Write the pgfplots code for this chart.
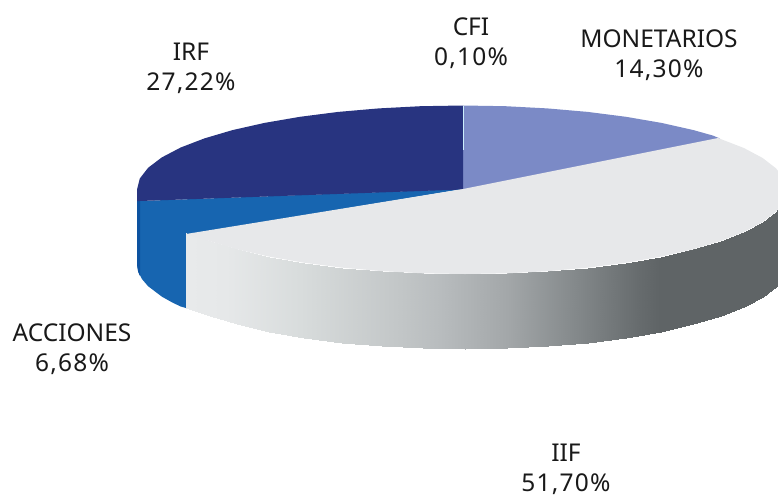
\documentclass[border=0pt]{standalone}
\usepackage{fontspec}
\setmainfont{Noto Sans}
\usepackage{pgfplots}
\pgfplotsset{compat=1.18}
\definecolor{navy}{RGB}{40,52,128}
\definecolor{peri}{RGB}{123,138,198}
\definecolor{azul}{RGB}{23,101,176}
\definecolor{azuld}{RGB}{12,82,160}
\definecolor{claro}{RGB}{231,232,234}
\newfontfamily\pct[LetterSpace=5]{Noto Sans}
\tikzset{lbl/.style={font=\fontsize{24.5}{30}\selectfont,text=black!90,align=center,inner sep=0pt}}
\begin{document}
\begin{tikzpicture}
\begin{axis}[
  width=778pt,height=499pt,scale only axis,
  xmin=0,xmax=778,ymin=0,ymax=499,y dir=reverse,
  hide axis,clip=true,
  colormap={lado}{rgb255(0pt)=(232,234,235);rgb255(40pt)=(230,232,233);rgb255(114pt)=(216,220,220);rgb255(214pt)=(194,198,199);rgb255(254pt)=(184,188,190);rgb255(321pt)=(163,167,169);rgb255(387pt)=(133,138,140);rgb255(454pt)=(102,107,109);rgb255(474pt)=(95,100,102);rgb255(601pt)=(95,100,102)},
  point meta min=186,point meta max=787,
]
% MONETARIOS
\addplot[fill=peri,draw=none] coordinates {(463,189.5)(463,105.5)(505.5,106.2)(547.4,108.4)(587.8,111.9)(626,116.8)(661.5,122.9)(693.5,130.1)(712.7,135.5)(720,138.5)} --cycle;
% ACCIONES
\addplot[fill=azul,draw=none] coordinates {(140,201)(463,189)(186,235)(186,308)(180.7,306.5)(172.5,302.6)(161.8,296.6)(148.1,286.2)(142,279.1)(138.2,271.8)(137,264.5)(137,201)} --cycle;
\addplot[fill=azuld,draw=none] coordinates {(137,201)(140,201)(140,276)(138.2,271.8)(137,264.5)} --cycle;
% IRF
\addplot[fill=navy,draw=none] coordinates {(463,189.5)(463,105.5)(420.5,106.2)(378.6,108.4)(338.2,111.9)(300,116.8)(264.5,122.9)(232.5,130.1)(204.4,138.4)(180.7,147.5)(161.8,157.4)(148.1,167.8)(139.8,178.5)(137,189.5)(137,201)(140,201)} --cycle;
\addplot[draw=cyan!20!white,line width=0.6pt] coordinates {(463,105.5)(463,150)};
% IIF lateral
\addplot[surf,shader=interp,mesh/rows=2,point meta=x] coordinates {
(186,233)(209.5,241.1)(237.3,249.4)(269,256.6)(304,262.7)(341.8,267.6)(381.7,271.1)(423,273.3)(465,274)(507,273.3)(548.3,271.1)(588.2,267.6)(626,262.7)(661,256.6)(692.7,249.4)(720.5,241.1)(743.9,232)(762.5,222.1)(776,211.7)(784.2,201)(787,190)

(186,308)(209.5,316.1)(237.3,324.4)(269,331.6)(304,337.7)(341.8,342.6)(381.7,346.1)(423,348.3)(465,349)(507,348.3)(548.3,346.1)(588.2,342.6)(626,337.7)(661,331.6)(692.7,324.4)(720.5,316.1)(743.9,307)(762.5,297.1)(776,286.7)(784.2,276)(787,265)
};
% IIF superior
\addplot[fill=claro,draw=none] coordinates {(186,234)(463,189)(718,138)(743.9,148)(762.5,157.9)(776,168.3)(784.2,179)(787,190)(784.2,201)(776,211.7)(762.5,222.1)(743.9,232)(720.5,241.1)(692.7,249.4)(661,256.6)(626,262.7)(588.2,267.6)(548.3,271.1)(507,273.3)(465,274)(423,273.3)(381.7,271.1)(341.8,267.6)(304,262.7)(269,256.6)(237.3,249.4)(209.5,241.1)} --cycle;
% Etiquetas
\node[lbl] at (axis cs:471,43) {CFI\\{\pct 0,10\%}};
\node[lbl] at (axis cs:191,68) {IRF\\{\pct 27,22\%}};
\node[lbl] at (axis cs:659,55) {MONETARIOS\\{\pct 14,30\%}};
\node[lbl] at (axis cs:72,349) {ACCIONES\\{\pct 6,68\%}};
\node[lbl] at (axis cs:566,469.5) {IIF\\{\pct 51,70\%}};
\end{axis}
\pgfresetboundingbox
\useasboundingbox (0,0) rectangle (778pt,499pt);
\end{tikzpicture}
\end{document}
